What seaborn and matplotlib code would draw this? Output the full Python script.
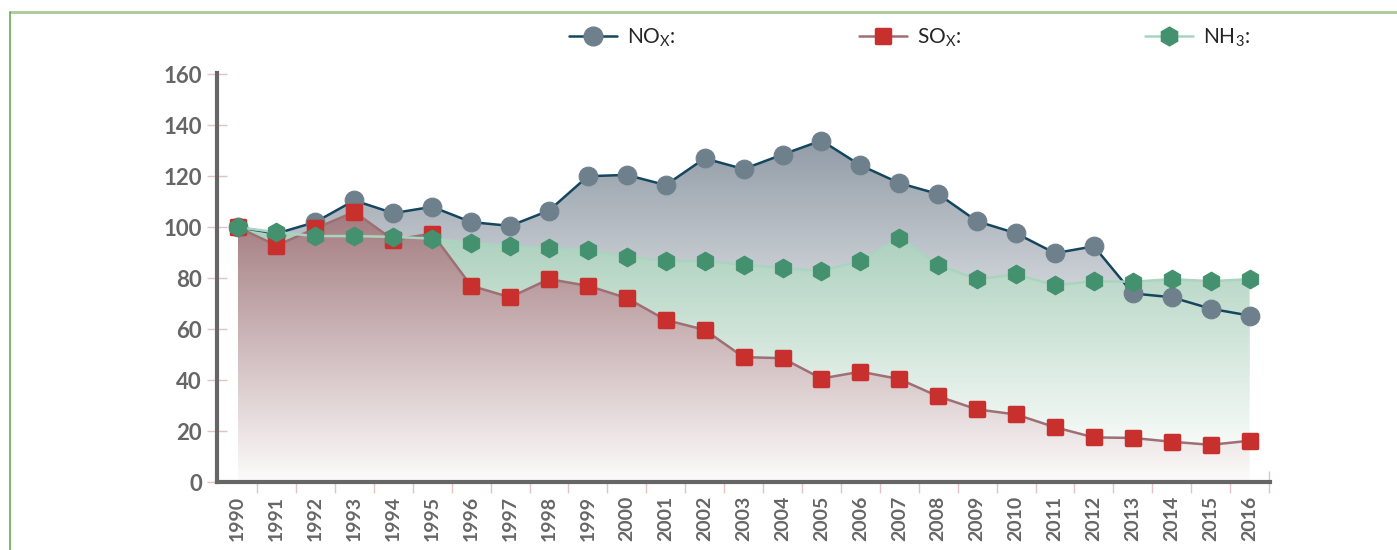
import numpy as np
import matplotlib
matplotlib.use("Agg")
import matplotlib.pyplot as plt
from matplotlib.colors import to_rgb
from matplotlib.lines import Line2D
from matplotlib.markers import MarkerStyle
import seaborn as sns

# Data (index, 1990 = 100)
years = list(range(1990, 2017))
nox = [100, 97.5, 102, 110.5, 105.5, 108, 102, 100.5, 106.5, 120, 120.5, 116.5, 127,
       122.8, 128.5, 134, 124.3, 117.3, 113, 102.3, 97.6, 89.8, 92.5, 74, 72.5, 68, 65.3]
sox = [100, 92.8, 99.5, 106, 95, 97.5, 77, 72.5, 79.6, 77, 72.2, 63.6, 59.7,
       49, 48.6, 40.6, 43.3, 40.4, 33.6, 28.5, 26.5, 21.5, 17.5, 17.3, 15.8, 14.6, 16.2]
nh3 = [100, 98, 96.5, 96.5, 96.2, 95.5, 93.8, 92.5, 91.8, 91, 88.4, 86.8, 86.8,
       85.2, 84, 82.7, 86.8, 95.8, 85.2, 79.6, 81.5, 77.2, 78.8, 78.6, 79.6, 78.8, 79.6]
labels = ["NO$_\\mathregular{X}$:", "SO$_\\mathregular{X}$:", "NH$_\\mathregular{3}$:"]

sns.set_style("white")
plt.rcParams["font.family"] = ["Lato", "DejaVu Sans"]

fig = plt.figure(figsize=(13.97, 5.5), dpi=100)
ax = fig.add_axes([0.155, 0.1236, 0.754, 0.7437])

# Opaque gradient fill: colour at the top of the area, fading to white at yWhite
def gradientFill(ax, x, y, color, yWhite, z):
    poly = ax.fill_between(x, y, 0, facecolor="none", edgecolor="none", zorder=z)
    ymax = max(y)
    rows = np.linspace(ymax, 0, 300)
    t = np.clip((rows - yWhite) / (ymax - yWhite), 0, 1)
    rgb = np.array(to_rgb(color))
    img = np.ones((300, 1, 3))
    img[:, 0, :] = 1 - t[:, None] * (1 - rgb)
    im = ax.imshow(img, aspect="auto", origin="upper", extent=[x[0], x[-1], 0, ymax], zorder=z)
    im.set_clip_path(poly.get_paths()[0], transform=ax.transData)

gradientFill(ax, years, nox, "#929ca7", 30, 1)
gradientFill(ax, years, nh3, "#aacfbb", 5, 2)
gradientFill(ax, years, sox, "#a27a7e", -3, 3)

sqMarker = MarkerStyle("s", joinstyle="round")

sns.lineplot(x=years, y=nox, ax=ax, color="#15465f", linewidth=1.8, marker="o", markersize=13.5,
             markerfacecolor="#6e808c", markeredgecolor="#6e808c", zorder=5)
sns.lineplot(x=years, y=sox, ax=ax, color="#9e6f75", linewidth=1.8, marker=sqMarker, markersize=10.5,
             markerfacecolor="#c8302e", markeredgecolor="#c8302e", markeredgewidth=2.5, zorder=6)
sns.lineplot(x=years, y=nh3, ax=ax, color="#a9d5bf", linewidth=1.8, marker="h", markersize=13.5,
             markerfacecolor="#44916f", markeredgecolor="#44916f", zorder=7)

ax.set_xlim(1989.46, 2016.52)
ax.set_ylim(0, 160.5)

# Axes styling
for side in ["top", "right"]:
    ax.spines[side].set_visible(False)
for side in ["left", "bottom"]:
    ax.spines[side].set_color("#666666")
    ax.spines[side].set_linewidth(3)
    ax.spines[side].set_zorder(10)

ax.set_yticks(range(0, 161, 20))
ax.tick_params(axis="y", direction="inout", length=15, width=1, color="#e0c4c6",
               labelsize=16, labelcolor="#666666", pad=3, left=True)
ax.set_xticks(years)
ax.set_xticklabels([str(y) for y in years], rotation=90)
ax.tick_params(axis="x", which="major", length=0, labelsize=14, labelcolor="#666666", pad=10)
ax.set_xticks([y + 0.5 for y in years], minor=True)
ax.tick_params(axis="x", which="minor", direction="inout", length=16, width=1, color="#e0c4c6", bottom=True)
for lbl in ax.get_yticklabels() + ax.get_xticklabels():
    lbl.set_fontweight("bold")
ax.set_xlabel("")
ax.set_ylabel("")

# Legend
handles = [
    Line2D([], [], color="#15465f", lw=1.8, marker="o", markersize=13.5, markerfacecolor="#6e808c", markeredgecolor="#6e808c"),
    Line2D([], [], color="#9e6f75", lw=1.8, marker=sqMarker, markersize=10.5, markerfacecolor="#c8302e",
           markeredgecolor="#c8302e", markeredgewidth=2.5),
    Line2D([], [], color="#a9d5bf", lw=1.8, marker="h", markersize=13.5, markerfacecolor="#44916f", markeredgecolor="#44916f"),
]
fig.legend(handles, labels, ncol=3, loc="center", bbox_to_anchor=(0.651, 0.931), frameon=False,
           fontsize=15, handlelength=2.3, handletextpad=0.5, columnspacing=8.8)

# Green frame lines
fig.add_artist(Line2D([10 / 1397, 1.0], [1 - 12 / 550, 1 - 12 / 550], color="#a8c99b", lw=2, transform=fig.transFigure))
fig.add_artist(Line2D([10 / 1397, 10 / 1397], [0, 1 - 12 / 550], color="#6aaa4f", lw=1.2, transform=fig.transFigure))

fig.savefig("out.png", dpi=100)
